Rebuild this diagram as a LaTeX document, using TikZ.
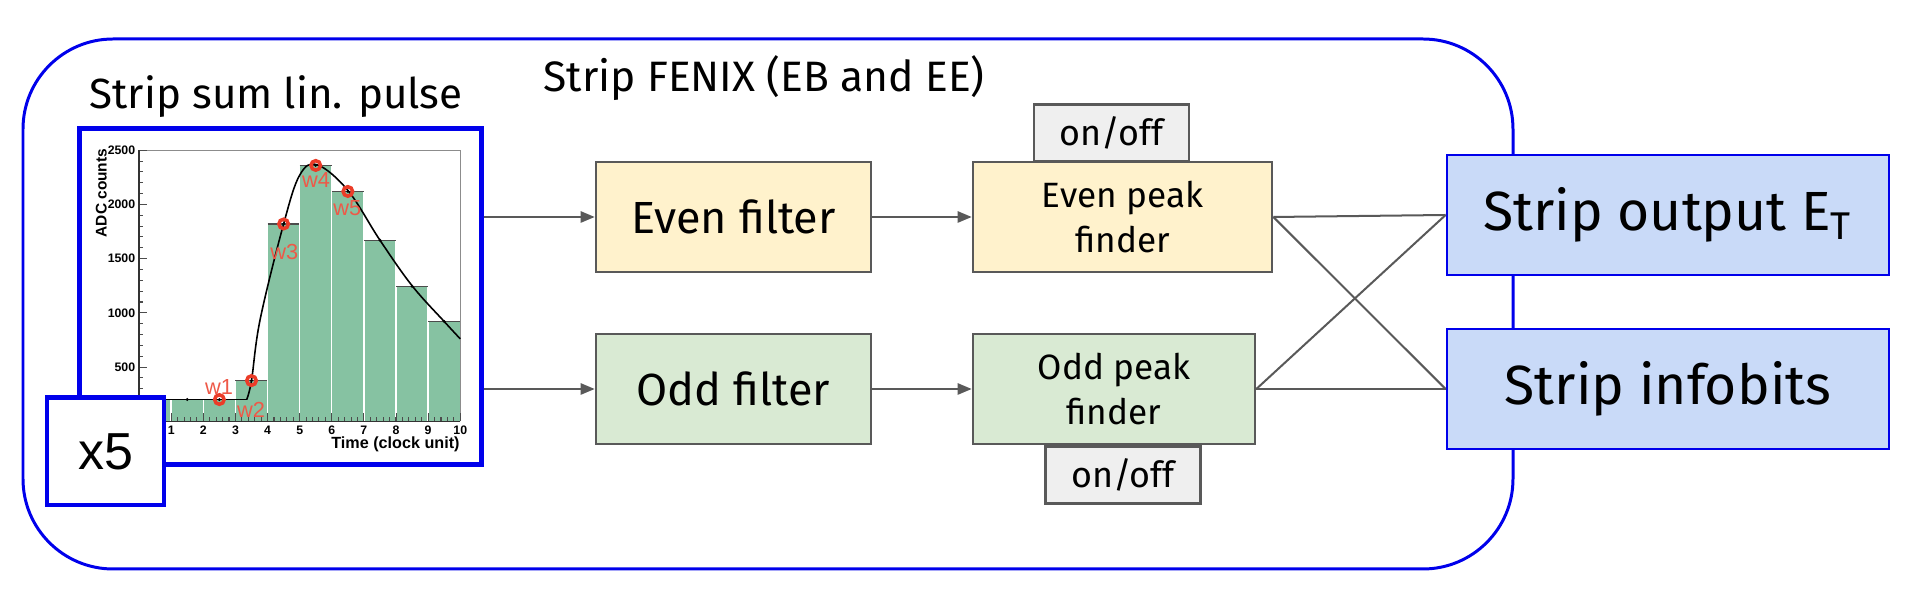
\documentclass[tikz,border=0pt]{standalone}
\usepackage{fontspec}
\setmainfont{Fira Sans}
\newfontfamily\arialfont{Liberation Sans}
\usetikzlibrary{arrows.meta}
\definecolor{boxgray}{HTML}{595959}
\definecolor{evenfill}{HTML}{FFF2CC}
\definecolor{oddfill}{HTML}{D9EAD3}
\definecolor{switchfill}{HTML}{EFEFEF}
\definecolor{outfill}{HTML}{C9DAF8}
\definecolor{fenixblue}{RGB}{0,0,235}
\definecolor{barfill}{RGB}{134,194,162}
\definecolor{sampred}{RGB}{235,60,40}
\tikzset{
  stagebox/.style={draw=boxgray, line width=0.7pt, minimum height=1.1cm, align=center},
  filterbox/.style={stagebox, minimum width=2.75cm, font=\fontsize{12.8}{15}\selectfont},
  finderbox/.style={stagebox, font=\fontsize{10}{12.8}\selectfont},
  switchbox/.style={stagebox, fill=switchfill, minimum width=1.55cm, minimum height=0.57cm, font=\fontsize{10.2}{12}\selectfont},
  outbox/.style={draw=fenixblue, line width=0.7pt, fill=outfill, minimum width=4.42cm, minimum height=1.2cm, font=\fontsize{15.7}{18}\selectfont},
  flow/.style={draw=boxgray, line width=0.57pt, -{Triangle[length=4pt,width=3.2pt]}},
  cross/.style={draw=boxgray, line width=0.57pt},
  ticklabel/.style={font=\arialfont\bfseries\fontsize{3.5}{4}\selectfont, inner sep=0pt},
  wlabel/.style={font=\arialfont\fontsize{6.2}{7}\selectfont, text=sampred!85, inner sep=0pt},
}

\begin{document}
\begin{tikzpicture}[x=0.01cm, y=-0.01cm]
	%%%%% START %%%%%
	\useasboundingbox (0,0) rectangle (1920,607);
	
	% outer FENIX frame
	\draw[fenixblue, line width=0.85pt, rounded corners=0.9cm] (23,39) rectangle (1513,569);
	
	\node[anchor=base west, inner sep=0pt, font=\fontsize{12}{15}\selectfont] (pulsetitle) at (89,109) {Strip sum lin. pulse};
	\node[anchor=base west, inner sep=0pt, font=\fontsize{12.1}{15}\selectfont] (fenixtitle) at (543,92) {Strip FENIX (EB and EE)};
	
	% pulse plot
	\begin{scope}[shift={(1.39cm,-4.21cm)}, x=0.321cm, y=0.001076cm]
		\foreach \v [count=\i from 0] in {200,200,200,375,1820,2360,2120,1670,1245,920}{
			\filldraw[fill=barfill, draw=white, line width=0.4pt] (\i,0) rectangle (\i+1,\v);
			\draw[black!70, line width=0.35pt] (\i,\v) -- (\i+1,\v);
		}
		\draw[black!45, line width=0.3pt] (0,2500) -- (10,2500) -- (10,0);
		\foreach \c in {0,100,...,2500} \draw[black!70, line width=0.3pt] (0,\c) -- ++(0.12,0);
		\foreach \c in {0,500,...,2500} \draw[black!70, line width=0.3pt] (0,\c) -- ++(0.25,0);
		\foreach \t in {0,0.2,...,10} \draw[black!70, line width=0.3pt] (\t,0) -- ++(0,40);
		\foreach \t in {0,...,10} \draw[black!70, line width=0.3pt] (\t,0) -- ++(0,80);
		\draw[black!80, line width=0.35pt] (0,2500) -- (0,0) -- (10,0);
		\foreach \c in {500,1000,...,2500} \node[ticklabel, anchor=east] at (-0.1,\c) {\c};
		\foreach \t in {1,...,10} \node[ticklabel, anchor=north] at (\t,-35) {\t};
		\node[ticklabel, font=\arialfont\bfseries\fontsize{4.4}{5}\selectfont, rotate=90, anchor=east] (adclabel) at (-1.18,2520) {ADC counts};
		\node[ticklabel, font=\arialfont\bfseries\fontsize{4.6}{5}\selectfont, anchor=east] (timelabel) at (10,-214) {Time (clock unit)};
		
		\draw[black, line width=0.45pt] (0,200) -- (3.35,200);
		\draw[black, line width=0.45pt] plot[smooth, tension=0.6] coordinates {(3.35,200) (3.5,375) (3.77,940) (4.5,1820) (5.0,2270) (5.55,2365) (6.5,2130) (7.5,1670) (8.5,1250) (9.5,920) (10,760)};
		
		\foreach \t/\c in {2.5/200, 3.5/375, 4.5/1820, 5.5/2360, 6.5/2120}
			\draw[sampred, line width=1pt] (\t,\c) circle[radius=1.35pt];
		\foreach \t/\c in {1.5/200, 2.5/200, 3.5/375, 4.5/1820, 5.5/2360, 6.5/2120, 7.5/1670, 8.5/1245, 9.5/920}
			\fill[black] (\t,\c) circle[radius=0.45pt];
		
		\node[wlabel] (w1) at (2.49,316) {w1};
		\node[wlabel] (w2) at (3.49,102) {w2};
		\node[wlabel] (w3) at (4.52,1561) {w3};
		\node[wlabel] (w4) at (5.51,2221) {w4};
		\node[wlabel] (w5) at (6.48,1970) {w5};
	\end{scope}
	
	\node[draw=fenixblue, line width=1.4pt, minimum width=4.01cm, minimum height=3.35cm] (pulse) at (280.5,296.5) {};
	\node[draw=fenixblue, line width=1.4pt, fill=white, minimum width=1.17cm, minimum height=1.07cm, font=\arialfont\fontsize{14.8}{16}\selectfont] (copies) at (105.5,451.5) {x5};
	
	% filters and peak finders
	\node[filterbox, fill=evenfill] (evenf) at (733.5,217) {Even filter};
	\node[filterbox, fill=oddfill] (oddf) at (733.5,389) {Odd filter};
	\node[finderbox, fill=evenfill, minimum width=2.99cm] (evenpf) at (1122.5,217) {Even peak\\finder};
	\node[finderbox, fill=oddfill, minimum width=2.82cm] (oddpf) at (1114,389) {Odd peak\\finder};
	\node[switchbox] (evenswitch) at (1111.5,133) {on/off};
	\node[switchbox] (oddswitch) at (1123,475) {on/off};
	
	\node[outbox] (stripout) at (1668,215) {Strip output E\textsubscript{T}};
	\node[outbox] (stripinfo) at (1668,389) {Strip infobits};
	
	\draw[flow] (pulse.east |- evenf.west) -- (evenf.west);
	\draw[flow] (pulse.east |- oddf.west) -- (oddf.west);
	\draw[flow] (evenf) -- (evenpf);
	\draw[flow] (oddf) -- (oddpf);
	
	\draw[cross] (evenpf.east) -- (stripout.west);
	\draw[cross] (evenpf.east) -- (stripinfo.west);
	\draw[cross] (oddpf.east) -- (stripout.west);
	\draw[cross] (oddpf.east) -- (stripinfo.west);
	
	%%%%% END %%%%%
\end{tikzpicture}
\end{document}
